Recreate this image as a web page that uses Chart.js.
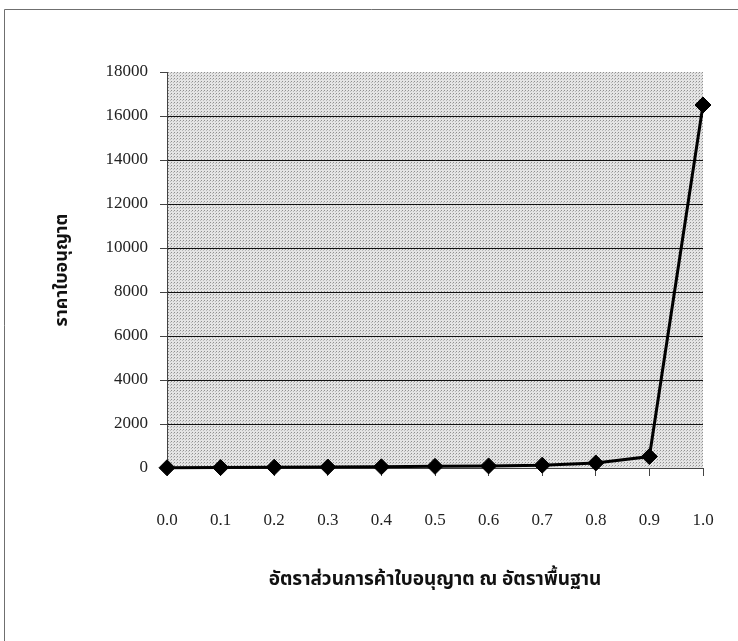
<!DOCTYPE html>
<html>
<head>
<meta charset="utf-8">
<script src="https://cdn.jsdelivr.net/npm/chart.js@4.4.1/dist/chart.umd.min.js"></script>
<style>
  html, body { margin: 0; padding: 0; background: #fff; }
  #wrap { width: 738px; height: 641px; position: relative; }
</style>
</head>
<body>
<div id="wrap"><canvas id="c" width="738" height="641"></canvas></div>
<script>
// Permit trading ratio at base rate (x) and permit price (y)
const ratioLabels = ['0.0', '0.1', '0.2', '0.3', '0.4', '0.5', '0.6', '0.7', '0.8', '0.9', '1.0'];
const permitPrice = [10, 20, 35, 45, 55, 75, 95, 130, 230, 520, 16500];
const yTicks = [0, 2000, 4000, 6000, 8000, 10000, 12000, 14000, 16000, 18000];

const xTitle = 'อัตราส่วนการค้าใบอนุญาต ณ อัตราพื้นฐาน';
const yTitle = 'ราคาใบอนุญาต';

const serif = "'Liberation Serif', 'Times New Roman', 'Noto Sans Thai', 'Loma', 'Garuda', serif";

// Stippled grey fill for the plot area
function makeStipple(ctx) {
  const t = document.createElement('canvas');
  t.width = 3; t.height = 3;
  const g = t.getContext('2d');
  g.fillStyle = '#e4e4e4';
  g.fillRect(0, 0, 3, 3);
  g.fillStyle = '#8f8f8f';
  g.fillRect(0, 0, 1, 1);
  g.fillStyle = '#b9b9b9';
  g.fillRect(2, 1, 1, 1);
  return ctx.createPattern(t, 'repeat');
}

const backdrop = {
  id: 'backdrop',
  beforeDraw(chart) {
    const { ctx, chartArea: a } = chart;
    ctx.save();
    // page frame
    ctx.strokeStyle = '#6f6f6f';
    ctx.lineWidth = 1;
    ctx.beginPath();
    ctx.moveTo(738, 9.5);
    ctx.lineTo(4.5, 9.5);
    ctx.lineTo(4.5, 641);
    ctx.stroke();
    // plot area
    ctx.fillStyle = makeStipple(ctx);
    ctx.fillRect(a.left, a.top, a.right - a.left, a.bottom - a.top);
    ctx.restore();
  }
};

new Chart(document.getElementById('c'), {
  type: 'line',
  data: {
    labels: ratioLabels,
    datasets: [{
      data: permitPrice,
      borderColor: '#000',
      backgroundColor: '#000',
      borderWidth: 3,
      pointStyle: 'rectRot',
      pointRadius: 8,
      pointBorderWidth: 1,
      pointBackgroundColor: '#000',
      pointBorderColor: '#000',
      tension: 0,
      clip: false
    }]
  },
  options: {
    responsive: false,
    animation: false,
    devicePixelRatio: 1,
    layout: { padding: { left: 0, right: 35, top: 72, bottom: 30 } },
    plugins: {
      legend: { display: false },
      tooltip: { enabled: false }
    },
    scales: {
      x: {
        type: 'category',
        offset: false,
        afterFit(scale) {
          scale.height = 143;
          scale.paddingLeft = 0;
          scale.paddingRight = 0;
        },
        grid: {
          drawOnChartArea: false,
          drawTicks: true,
          tickLength: 8,
          tickColor: '#444'
        },
        border: { display: true, color: '#444', width: 1 },
        ticks: {
          padding: 34,
          maxRotation: 0,
          color: '#222',
          font: { family: serif, size: 17 }
        },
        title: {
          display: true,
          text: xTitle,
          color: '#111',
          padding: { top: 0, bottom: 20 },
          font: { family: serif, size: 19, weight: 'bold' }
        }
      },
      y: {
        min: 0,
        max: 18000,
        afterFit(scale) {
          scale.width = 167;
          scale.paddingTop = 0;
          scale.paddingBottom = 0;
        },
        afterBuildTicks(scale) { scale.ticks = yTicks.map(v => ({ value: v })); },
        grid: {
          drawOnChartArea: true,
          drawTicks: true,
          tickLength: 7,
          tickColor: '#444',
          color: ctx => (ctx.tick && (ctx.tick.value === 0 || ctx.tick.value === 18000)) ? 'rgba(0,0,0,0)' : '#111',
          lineWidth: 1
        },
        border: { display: true, color: '#444', width: 1 },
        ticks: {
          padding: 12,
          color: '#222',
          font: { family: serif, size: 17 },
          callback: v => String(v)
        },
        title: {
          display: true,
          text: yTitle,
          color: '#111',
          padding: { top: 52, bottom: 0 },
          font: { family: serif, size: 18, weight: 'bold' }
        }
      }
    }
  },
  plugins: [backdrop]
});
</script>
</body>
</html>
